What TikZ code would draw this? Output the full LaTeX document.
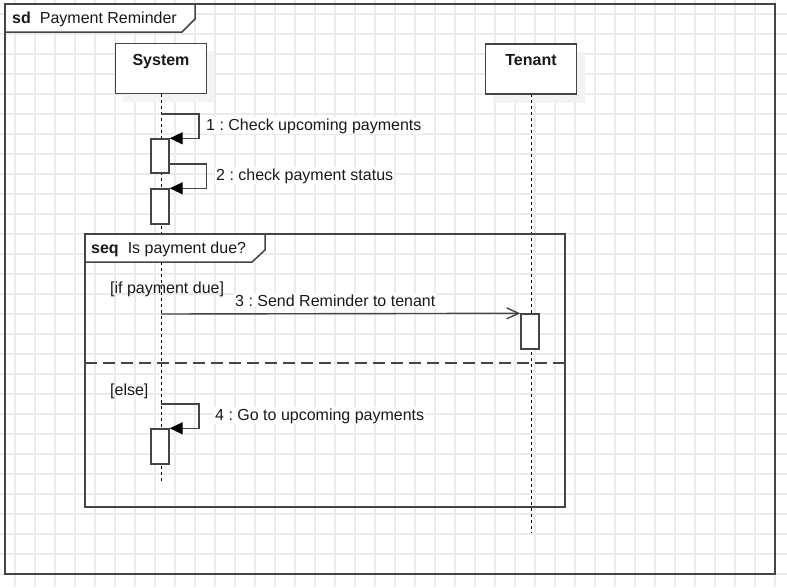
\documentclass[tikz,border=0pt]{standalone}
\usepackage{fontspec}
\setmainfont{Liberation Sans}
\usetikzlibrary{arrows.meta}
\definecolor{umlline}{HTML}{444444}
\definecolor{gridgray}{HTML}{EBEBEB}
\definecolor{shadowgray}{HTML}{F3F3F3}
\frenchspacing

\begin{document}
\begin{tikzpicture}[x=1pt,y=-1pt,
        every node/.style={font=\fontsize{16}{19}\selectfont, text=black!90},
        gridline/.style={draw=gridgray, line width=2pt},
        frameline/.style={draw=umlline, line width=1.5pt},
        participant/.style={draw=umlline, line width=1.5pt, fill=white, minimum width=91pt, minimum height=50pt, inner sep=0pt},
        headtext/.style={anchor=base, inner sep=0pt, font=\fontsize{16}{19}\selectfont\bfseries},
        lifeline/.style={draw=black, line width=1pt, dash pattern=on 3pt off 3pt},
        activation/.style={draw=umlline, line width=1.4pt, fill=white, minimum width=18pt, inner sep=0pt},
        syncmsg/.style={draw=umlline, line width=1.4pt, -{Triangle[length=13pt,width=12pt,color=black]}},
        asyncmsg/.style={draw=umlline, line width=1.4pt, -{Straight Barb[length=12pt,width=11pt]}},
        msglabel/.style={anchor=base west, fill=white, inner sep=1pt},
        guard/.style={anchor=base west, inner sep=0pt}]

        \useasboundingbox (0,0) rectangle (787,587);

        % background grid
        \foreach \gx in {15,35,...,775}
            \draw[gridline] (\gx,0) -- (\gx,587);
        \foreach \gy in {14,34,...,574}
            \draw[gridline] (0,\gy) -- (787,\gy);

        % sd frame
        \draw[frameline] (5,4) rectangle (775,574);
        \draw[frameline, fill=white] (5,4) -- (195,4) -- (195,19) -- (182,32) -- (5,32) -- cycle;
        \node[guard] (sdlbl) at (12,23) {\textbf{sd}\hspace{9pt}Payment Reminder};

        % guards
        \node[guard] (ifdue) at (110,293) {[if payment due]};
        \node[guard] (elsecase) at (110,395) {[else]};

        % participants
        \fill[shadowgray] (123,51) rectangle (214,102);
        \fill[shadowgray] (493,52) rectangle (585,103);
        \coordinate (sysend) at (161,481);
        \coordinate (tenend) at (531,533);
        \draw[lifeline] (161,94) -- (sysend);
        \draw[lifeline] (531,94) -- (tenend);
        \node[participant] (sys) at (161,68.5) {};
        \node[participant] (ten) at (531,69) {};
        \node[headtext] (syslbl) at (161,65) {System};
        \node[headtext] (tenlbl) at (531,65) {Tenant};

        % seq fragment
        \draw[frameline] (85,234) rectangle (565,507);
        \draw[frameline, dash pattern=on 12pt off 6pt] (85,363) -- (565,363);
        \draw[frameline, fill=white] (85,234) -- (265,234) -- (265,250) -- (252,262) -- (85,262) -- cycle;
        \node[guard] (seqlbl) at (91,253) {\textbf{seq}\hspace{9pt}Is payment due?};

        % activations
        \node[activation, minimum height=34pt] (act1) at (160,156) {};
        \node[activation, minimum height=35pt] (act2) at (160,206.5) {};
        \node[activation, minimum height=35pt] (act3) at (530,331.5) {};
        \node[activation, minimum height=35pt] (act4) at (160,446.5) {};

        % messages
        \coordinate (m1start) at (161,114);
        \coordinate (m2start) at ([yshift=-8pt]act1.east);
        \coordinate (m3start) at (161,314);
        \coordinate (m4start) at (161,404);

        \draw[syncmsg] (m1start) -- ++(38,0) |- (act1.north east);
        \draw[syncmsg] (m2start) -- ++(37,0) |- (act2.north east);
        \draw[asyncmsg] (m3start) -- (act3.north west);
        \draw[syncmsg] (m4start) -- ++(38,0) |- (act4.north east);

        \node[msglabel] (m1lbl) at (205,130) {1 : Check upcoming payments};
        \node[msglabel] (m2lbl) at (215,180) {2 : check payment status};
        \node[msglabel] (m3lbl) at (234,306) {3 : Send Reminder to tenant};
        \node[msglabel] (m4lbl) at (214,420) {4 : Go to upcoming payments};
\end{tikzpicture}
\end{document}
